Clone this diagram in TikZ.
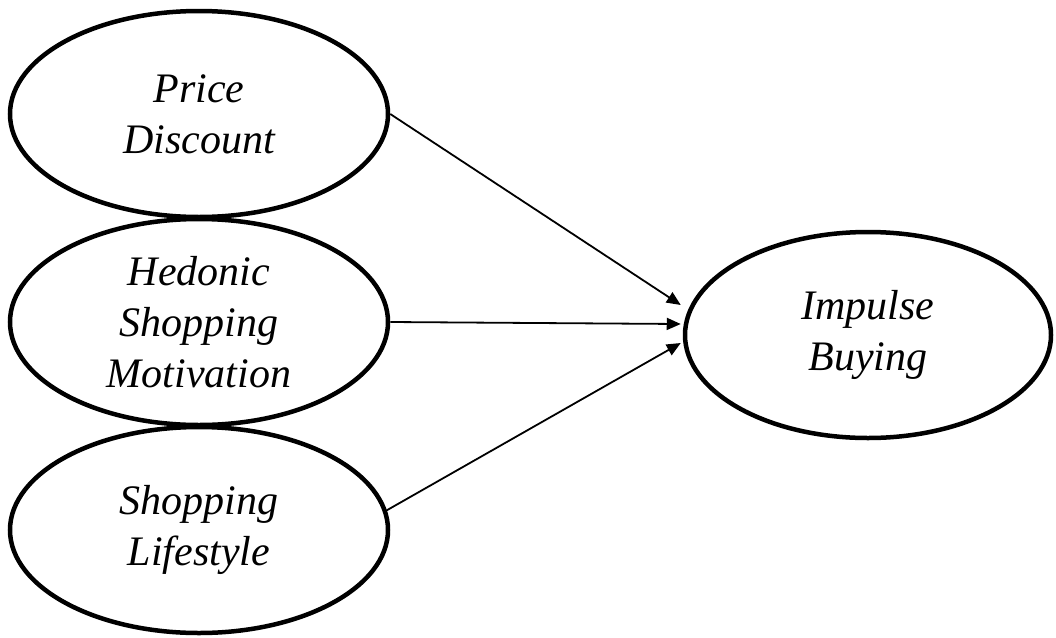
\documentclass[tikz,border=0pt]{standalone}
\usepackage{fontspec}
\setmainfont{Liberation Serif}
\usetikzlibrary{shapes.geometric,arrows.meta,calc}
\begin{document}
\begin{tikzpicture}[x=1pt,y=-1pt,
  var/.style={ellipse, draw=black, line width=4.5pt, inner sep=0pt,
    minimum width=378pt, minimum height=206pt, align=center,
    font=\itshape\fontsize{42}{51}\selectfont},
  link/.style={line width=1.8pt, -{Triangle[length=14pt,width=12pt]}}]
\useasboundingbox (0,0) rectangle (1056,637);
\node[var] (pd) at (199,114) {Price\\Discount};
\node[var] (hsm) at (199,322) {Hedonic\\Shopping\\Motivation};
\node[var] (sl) at (199,530) {Shopping\\Lifestyle};
\node[var, minimum width=366pt] (ib) at (868,335) {Impulse\\Buying};
\coordinate (t1) at ($(ib.west)+(-2,-30)$);
\coordinate (t2) at ($(ib.west)+(-2,-11)$);
\coordinate (t3) at ($(ib.west)+(-2,8)$);
\draw[link] (pd.east) -- (t1);
\draw[link] (hsm.east) -- (t2);
\draw[link] (sl.6) -- (t3);
\end{tikzpicture}
\end{document}
